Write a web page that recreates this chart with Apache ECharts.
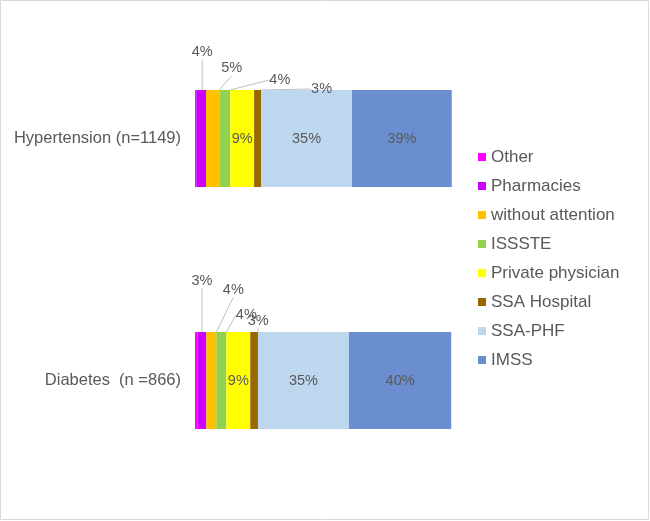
<!DOCTYPE html>
<html>
<head>
<meta charset="utf-8">
<script src="https://cdn.jsdelivr.net/npm/echarts@6/dist/echarts.min.js"></script>
<style>
html,body{margin:0;padding:0;background:#fff;}
#main{width:650px;height:521px;}
</style>
</head>
<body>
<div id="main"></div>
<script>
// ---- data ----
var categories = ['Hypertension (n=1149)', 'Diabetes  (n =866)'];
var seriesNames = ['Other', 'Pharmacies', 'without attention', 'ISSSTE', 'Private physician', 'SSA Hospital', 'SSA-PHF', 'IMSS'];
var other        = [0.5, 1.0];
var pharmacies   = [3.8, 3.4];
var withoutAtt   = [5.2, 3.9];
var issste       = [4.2, 3.9];
var privatePhys  = [9.3, 9.3];
var ssaHospital  = [2.7, 3.0];
var ssaPhf       = [35.4, 35.4];
var imss         = [38.8, 39.8];

// ---- styles ----
var colors = ['#FF00FF', '#CC00FF', '#FFC000', '#92D050', '#FFFF00', '#996600', '#BDD7EE', '#6A8ECF'];
var FONT = "'Liberation Sans', Arial, sans-serif";
var TXT = '#595959';
// label offsets for callout labels: [seriesIndex] -> per category [dx, dy]
var calloutOffsets = {
  1: [[1, -25.5], [0, -38.5]],
  2: [[19, -9.5], [22, -29.5]],
  3: [[55, 2.5], [25, -4.5]],
  5: [[64, 11.5], [4, 1.5]]
};

var values = [other, pharmacies, withoutAtt, issste, privatePhys, ssaHospital, ssaPhf, imss];

var series = values.map(function (vals, i) {
  var isCallout = calloutOffsets.hasOwnProperty(i);
  return {
    name: seriesNames[i],
    type: 'bar',
    stack: 'total',
    barWidth: 97,
    data: vals,
    itemStyle: { color: colors[i] },
    label: {
      show: i !== 0,
      position: isCallout ? 'top' : 'inside',
      distance: 5,
      color: TXT,
      fontFamily: FONT,
      fontSize: 14.5,
      formatter: function (p) { return Math.round(p.value) + '%'; }
    },
    labelLine: {
      show: isCallout,
      lineStyle: { color: '#bfbfbf', width: 1 }
    },
    labelLayout: isCallout ? function (p) {
      var o = calloutOffsets[i][p.dataIndex];
      return { dx: o[0], dy: o[1] };
    } : undefined,
    emphasis: { disabled: true }
  };
});

var chart = echarts.init(document.getElementById('main'), null, { renderer: 'canvas' });
chart.setOption({
  animation: false,
  backgroundColor: '#ffffff',
  textStyle: { fontFamily: FONT },
  graphic: [{
    type: 'rect',
    shape: { x: 0.5, y: 0.5, width: 648, height: 519 },
    style: { fill: 'none', stroke: '#d9d9d9', lineWidth: 1 },
    silent: true
  }],
  grid: { left: 195, right: 198, top: 17.5, bottom: 19.5, containLabel: false },
  xAxis: {
    type: 'value',
    min: 0,
    max: 100,
    show: false
  },
  yAxis: {
    type: 'category',
    inverse: true,
    data: categories,
    axisLine: { show: false },
    axisTick: { show: false },
    splitLine: { show: false },
    axisLabel: {
      color: TXT,
      fontFamily: FONT,
      fontSize: 16.5,
      margin: 14
    }
  },
  legend: {
    orient: 'vertical',
    left: 478,
    top: 148.5,
    padding: 0,
    itemGap: 12,
    itemWidth: 8,
    itemHeight: 8,
    icon: 'rect',
    data: seriesNames,
    textStyle: { color: TXT, fontFamily: FONT, fontSize: 17, lineHeight: 17 },
    selectedMode: false
  },
  series: series
});
</script>
</body>
</html>
